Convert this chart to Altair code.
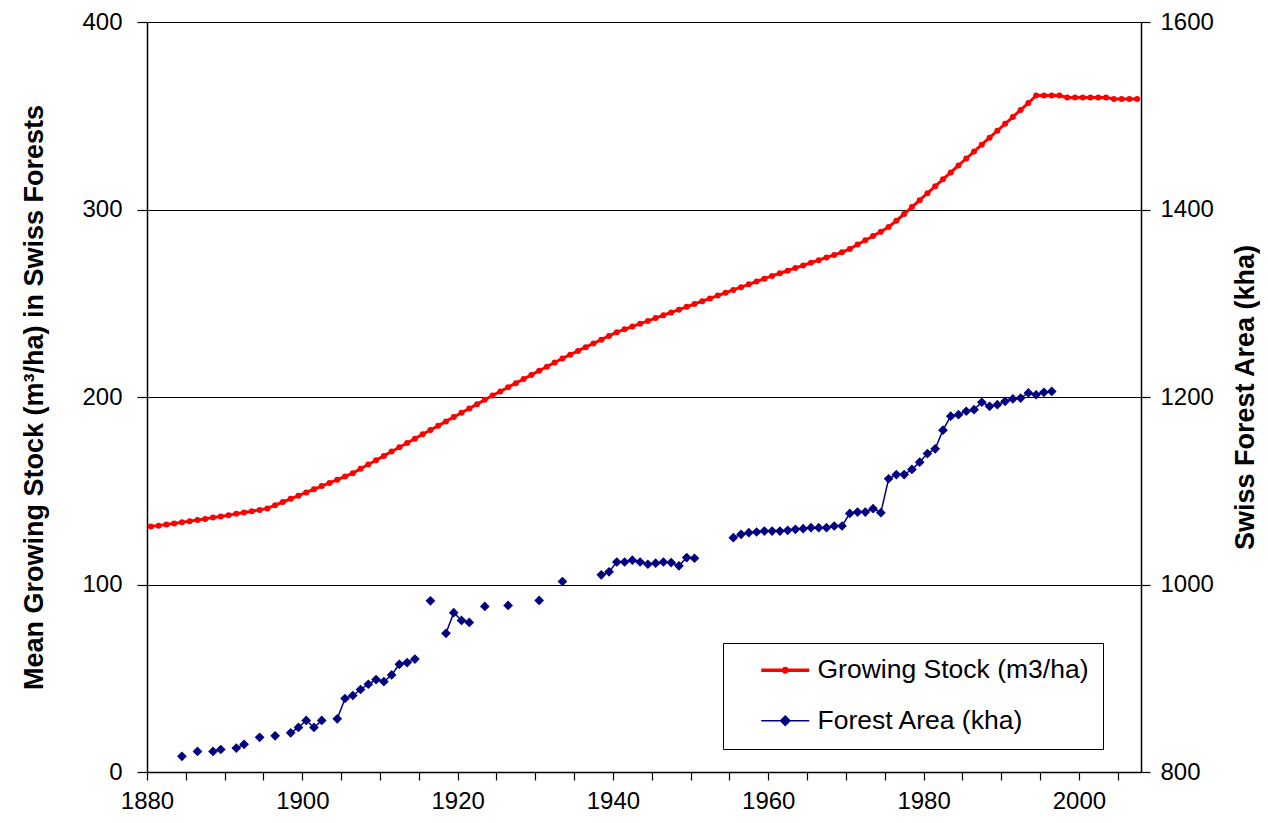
import altair as alt
import pandas as pd

# ---------------- data ----------------
stock_years = list(range(1880, 2008))
stock_values = [
    131.0, 131.4, 132.0, 132.6, 133.2, 133.8, 134.4, 135.0, 135.7, 136.3,   # 1880-1889
    137.0, 137.7, 138.4, 139.1, 139.8, 140.6, 142.3, 144.0, 145.7, 147.4,   # 1890-1899
    149.1, 150.8, 152.5, 154.2, 155.9, 157.6, 159.4, 161.7, 164.0, 166.3,   # 1900-1909
    168.6, 170.9, 173.2, 175.5, 177.8, 180.1, 182.4, 184.7, 187.0, 189.3,   # 1910-1919
    191.6, 193.9, 196.2, 198.5, 200.8, 203.0, 205.2, 207.4, 209.6, 211.8,   # 1920-1929
    214.0, 216.2, 218.4, 220.6, 222.6, 224.6, 226.6, 228.6, 230.6, 232.6,   # 1930-1939
    234.6, 236.1, 237.6, 239.1, 240.6, 242.1, 243.6, 245.1, 246.6, 248.1,   # 1940-1949
    249.6, 251.1, 252.6, 254.1, 255.6, 257.1, 258.6, 260.1, 261.6, 263.1,   # 1950-1959
    264.6, 266.0, 267.4, 268.8, 270.2, 271.6, 273.0, 274.4, 275.8, 277.2,   # 1960-1969
    279.0, 281.3, 283.6, 285.9, 288.2, 290.7, 294.0, 297.6, 301.3, 305.0,   # 1970-1979
    308.7, 312.4, 316.1, 319.8, 323.5, 327.2, 330.9, 334.6, 338.3, 342.0,   # 1980-1989
    345.7, 349.4, 353.1, 356.8, 360.8, 360.8, 360.8, 360.8, 359.7, 359.7,   # 1990-1999
    359.7, 359.7, 359.7, 359.7, 358.9, 358.9, 358.9, 358.9,                 # 2000-2007
]

area_years = [
    1884, 1886, 1888, 1889, 1891, 1892, 1894, 1896, 1898, 1899,
    1900, 1901, 1902, 1904, 1905, 1906, 1907, 1908, 1909, 1910,
    1911, 1912, 1913, 1914, 1916, 1918, 1919, 1920, 1921, 1923,
    1926, 1930, 1933, 1938, 1939, 1940, 1941, 1942, 1943, 1944,
    1945, 1946, 1947, 1948, 1949, 1950, 1955, 1956, 1957, 1958,
    1959, 1960, 1961, 1962, 1963, 1964, 1965, 1966, 1967, 1968,
    1969, 1970, 1971, 1972, 1973, 1974, 1975, 1976, 1977, 1978,
    1979, 1980, 1981, 1982, 1983, 1984, 1985, 1986, 1987, 1988,
    1989, 1990, 1991, 1992, 1993, 1994, 1995, 1996,
]
area_values = [
    816.7, 822.0, 822.0, 824.0, 825.5, 829.5, 837.0, 838.6, 841.8, 847.5,
    855.0, 847.5, 855.0, 856.7, 878.4, 881.6, 888.0, 893.6, 898.6, 896.5,
    903.5, 914.9, 916.7, 920.5, 982.6, 947.9, 970.0, 961.7, 959.6, 976.6,
    977.7, 983.0, 1003.2, 1010.3, 1013.5, 1024.0, 1024.0, 1026.0, 1024.0, 1021.6,
    1022.7, 1024.0, 1023.4, 1019.9, 1028.7, 1028.0, 1050.0, 1053.5, 1055.3, 1056.0,
    1057.0, 1057.0, 1057.0, 1057.8, 1058.9, 1059.6, 1060.6, 1060.6, 1060.6, 1062.4,
    1062.4, 1075.8, 1077.3, 1077.3, 1080.9, 1076.6, 1112.8, 1117.3, 1117.3, 1122.7,
    1130.5, 1139.7, 1144.7, 1164.6, 1179.5, 1181.2, 1184.8, 1186.5, 1194.4, 1190.1,
    1191.8, 1195.4, 1197.9, 1198.9, 1204.3, 1202.4, 1205.0, 1206.0,
]

series_names = ["Growing Stock (m3/ha)", "Forest Area (kha)"]
series_colors = ["#FF0000", "#000080"]
x_tick_values = list(range(1880, 2006, 5))
left_ticks = [0, 100, 200, 300, 400]
right_ticks = [800, 1000, 1200, 1400, 1600]

# ---------------- tables ----------------
stock_df = pd.DataFrame({"year": stock_years, "stock": stock_values})
area_df = pd.DataFrame({"year": area_years, "area": area_values})
# the line only joins consecutive years (missing years leave gaps)
area_df["seg"] = (area_df["year"].diff().fillna(1) > 1).cumsum()

FONT = "Liberation Sans"

# points sit in the middle of each year on the axis
x_enc = alt.X(
    "xpos:Q",
    scale=alt.Scale(domain=[1880, 2008], nice=False, zero=False),
    axis=alt.Axis(
        values=x_tick_values,
        labelExpr="datum.value % 20 == 0 ? '' + datum.value : ''",
        labelFlush=False,
        labelOverlap=False,
        tickSize=8,
        labelPadding=9,
        grid=False,
        title=None,
    ),
)

y_left = alt.Y(
    "stock:Q",
    scale=alt.Scale(domain=[0, 400], nice=False),
    axis=alt.Axis(
        orient="left",
        values=left_ticks,
        format="d",
        grid=True,
        tickSize=10,
        labelPadding=15,
        titlePadding=33,
        title="Mean Growing Stock (m³/ha) in Swiss Forests",
    ),
)

y_right = alt.Y(
    "area:Q",
    scale=alt.Scale(domain=[800, 1600], nice=False, zero=False),
    axis=alt.Axis(
        orient="right",
        values=right_ticks,
        format="d",
        grid=False,
        tickSize=9,
        labelPadding=10,
        titlePadding=19,
        titleAngle=270,
        titleBaseline="top",
        title="Swiss Forest Area (kha)",
    ),
)

stock_base = alt.Chart(stock_df).transform_calculate(xpos="datum.year + 0.5")
stock_line = stock_base.mark_line(color=series_colors[0], strokeWidth=3).encode(x=x_enc, y=y_left)
stock_pts = stock_base.mark_circle(color=series_colors[0], size=36, opacity=1).encode(x=x_enc, y=y_left)
stock_layer = alt.layer(stock_line, stock_pts)

area_base = alt.Chart(area_df).transform_calculate(xpos="datum.year + 0.5")
area_line = area_base.mark_line(color=series_colors[1], strokeWidth=1.5).encode(
    x=x_enc, y=y_right, detail="seg:N"
)
area_pts = area_base.mark_point(
    shape="diamond", filled=True, size=95, color=series_colors[1], opacity=1
).encode(x=x_enc, y=y_right)
area_layer = alt.layer(area_line, area_pts)

# legend symbols: a line with its marker (unit = 12 px, line spans 48 px)
red_symbol = (
    "M-2,-0.15 L-0.25,-0.15 L-0.25,0.15 L-2,0.15 Z "
    "M0.25,-0.15 L2,-0.15 L2,0.15 L0.25,0.15 Z "
    "M-0.3,0 A0.3,0.3 0 1,1 0.3,0 A0.3,0.3 0 1,1 -0.3,0 Z"
)
blue_symbol = "M-2,-0.07 L2,-0.07 L2,0.07 L-2,0.07 Z M0,-0.48 L0.48,0 L0,0.48 L-0.48,0 Z"

legend_props = dict(
    orient="none",
    legendX=576,
    legendY=621,
    title=None,
    padding=14,
    symbolSize=576,
    symbolStrokeWidth=0,
    symbolOffset=35,
    symbolOpacity=1,
    labelOffset=19,
    labelFontSize=26.5,
    labelFont=FONT,
    labelColor="black",
    labelLimit=500,
    rowPadding=23.5,
    strokeColor="black",
    fillColor="white",
)

legend_df = pd.DataFrame({"series": series_names})
legend_layer = alt.Chart(legend_df).mark_point(filled=True, opacity=0).encode(
    color=alt.Color(
        "series:N",
        scale=alt.Scale(domain=series_names, range=series_colors),
        legend=alt.Legend(**legend_props),
    ),
    shape=alt.Shape(
        "series:N",
        scale=alt.Scale(domain=series_names, range=[red_symbol, blue_symbol]),
        legend=alt.Legend(**legend_props),
    ),
)

chart = (
    alt.layer(area_layer, stock_layer, legend_layer)
    .resolve_scale(y="independent")
    .properties(
        width=994,
        height=750,
        autosize=alt.AutoSizeParams(type="none"),
        padding={"left": 139, "top": 14, "right": 119, "bottom": 43},
        background="white",
    )
    .configure_view(stroke=None)
    .configure_axis(
        domainColor="black",
        domainWidth=1.5,
        tickColor="black",
        tickWidth=1.2,
        gridColor="black",
        gridWidth=1,
        gridOpacity=1,
        labelColor="black",
        labelFont=FONT,
        labelFontSize=24,
        titleColor="black",
        titleFont=FONT,
        titleFontSize=27,
        titleFontWeight="bold",
    )
)

chart.save("out.html", embed_options={"renderer": "svg", "actions": False})
